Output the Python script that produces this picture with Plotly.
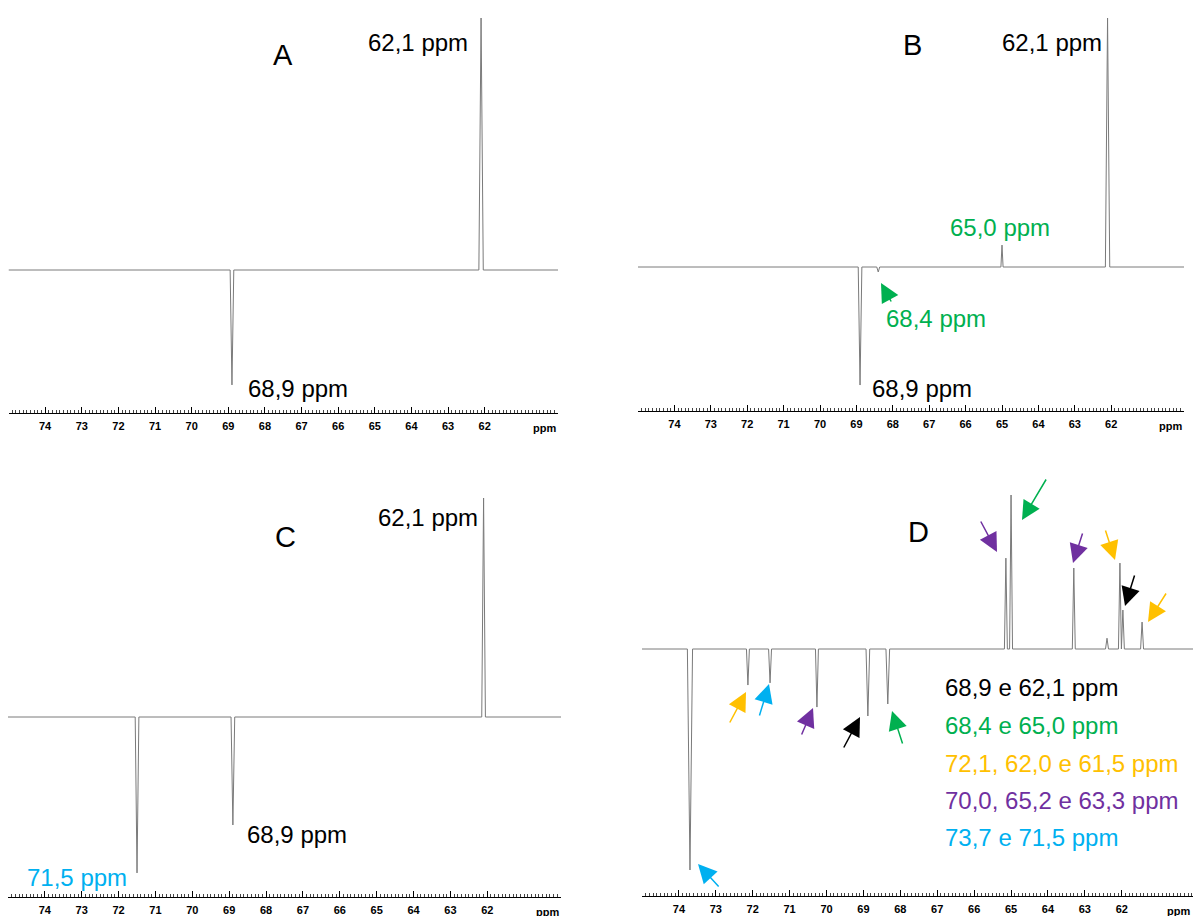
import plotly.graph_objects as go

# ---------------- data ----------------
# chemical shift (ppm) and relative intensity of each resonance, per spectrum
A_ppm = [68.9, 62.1]
A_int = [-45.6, 100.0]
A_lw = [0.05, 0.06]

B_ppm = [68.9, 68.4, 65.0, 62.1]
B_int = [-47.4, -2.0, 8.8, 100.0]
B_lw = [0.05, 0.04, 0.03, 0.06]

C_ppm = [71.5, 68.9, 62.1]
C_int = [-71.2, -49.3, 100.0]
C_lw = [0.05, 0.05, 0.05]

D_ppm = [73.70, 72.13, 71.53, 70.26, 68.88, 68.34, 65.14, 65.00, 63.30, 62.40, 62.05, 61.97, 61.45]
D_int = [-143.5, -23.4, -22.0, -37.7, -43.5, -35.7, 59.0, 100.0, 52.6, 7.0, 55.8, 25.3, 17.5]
D_lw = [0.07, 0.04, 0.04, 0.04, 0.05, 0.05, 0.04, 0.04, 0.04, 0.04, 0.04, 0.04, 0.04]

tick_vals = [74, 73, 72, 71, 70, 69, 68, 67, 66, 65, 64, 63, 62]
tick_text = [str(v) for v in tick_vals]
ppm_left, ppm_right = 75.0, 60.0

panel_letters = ["A", "B", "C", "D"]
legend_D = ["68,9 e 62,1 ppm", "68,4 e 65,0 ppm", "72,1, 62,0 e 61,5 ppm",
            "70,0, 65,2 e 63,3 ppm", "73,7 e 71,5 ppm"]

# ---------------- styling / layout ----------------
W, H = 1193, 916
FONT = "Arial, Liberation Sans, sans-serif"
GREY = "#7a7a7a"
GREEN = "#00B050"
YELLOW = "#FFC000"
PURPLE = "#7030A0"
BLUE = "#00B0F0"
BLACK = "#000000"

# per panel: x pixel span, top pixel, axis-line pixel, baseline pixel, px per intensity unit,
# right ppm of the visible axis, pixel of the right edge of the "ppm" unit label
panels = [
    dict(x0=8.5, x1=558, top=0, bottom=413, base=270, s=2.52, right=60.0, end=558),
    dict(x0=638, x1=1184, top=0, bottom=411, base=267, s=2.49, right=60.0, end=1184),
    dict(x0=8, x1=561, top=460, bottom=897, base=717, s=2.19, right=60.0, end=561),
    dict(x0=642, x1=1193, top=460, bottom=896, base=649, s=1.54, right=60.07, end=1192),
]
spectra = [(A_ppm, A_int, A_lw), (B_ppm, B_int, B_lw), (C_ppm, C_int, C_lw), (D_ppm, D_int, D_lw)]


def build_line(ppm, inten, lw):
    xs, ys = [ppm_left], [0.0]
    for p, h, w in sorted(zip(ppm, inten, lw), key=lambda t: -t[0]):
        xs += [p + w, p, p - w]
        ys += [0.0, h, 0.0]
    xs.append(ppm_right)
    ys.append(0.0)
    return xs, ys


fig = go.Figure()
layout = dict(
    width=W, height=H, autosize=False,
    margin=dict(l=0, r=0, t=0, b=0),
    paper_bgcolor="white", plot_bgcolor="white",
    showlegend=False,
)

for i, (pan, (pp, ii, ll)) in enumerate(zip(panels, spectra)):
    n = "" if i == 0 else str(i + 1)
    xs, ys = build_line(pp, ii, ll)
    fig.add_trace(go.Scatter(x=xs, y=ys, mode="lines",
                             line=dict(color=GREY, width=1),
                             xaxis="x" + n, yaxis="y" + n, hoverinfo="skip"))
    ytop = (pan["base"] - pan["top"]) / pan["s"]
    ybot = -(pan["bottom"] - pan["base"]) / pan["s"]
    layout["xaxis" + n] = dict(
        domain=[pan["x0"] / W, pan["x1"] / W],
        range=[ppm_left, pan["right"]],
        anchor="y" + n,
        tickvals=tick_vals, ticktext=tick_text,
        ticks="inside", ticklen=6, tickwidth=1, tickcolor="black",
        showline=True, linecolor="black", linewidth=1,
        showgrid=False, zeroline=False,
        minor=dict(dtick=0.1, tick0=60, ticks="inside", ticklen=3,
                   tickwidth=0.8, tickcolor="#444444", showgrid=False),
        tickfont=dict(family=FONT, size=11, color="black", weight="bold"),
        ticklabelstandoff=3,
        fixedrange=True,
    )
    layout["yaxis" + n] = dict(
        domain=[1 - pan["bottom"] / H, 1 - pan["top"] / H],
        range=[ybot, ytop], visible=False, fixedrange=True,
    )

annotations = []


def P(x, y):
    return x / W, 1 - y / H


def txt(x, y, s, color=BLACK, size=24, xanchor="center"):
    px, py = P(x, y)
    annotations.append(dict(x=px, y=py, xref="paper", yref="paper", text=s,
                            showarrow=False, xanchor=xanchor, yanchor="middle",
                            font=dict(family=FONT, size=size, color=color)))


def arrow(tip, tail, color):
    px, py = P(*tip)
    annotations.append(dict(x=px, y=py, xref="paper", yref="paper", text="",
                            showarrow=True, ax=tail[0] - tip[0], ay=tail[1] - tip[1],
                            axref="pixel", ayref="pixel",
                            arrowhead=2, arrowsize=2.5, arrowwidth=1.5,
                            arrowcolor=color, standoff=0))


# "ppm" unit labels at the right end of each axis
for pan in panels:
    px, py = P(pan["end"], pan["bottom"] + 15)
    annotations.append(dict(x=px, y=py, xref="paper", yref="paper",
                            text="ppm", showarrow=False,
                            xanchor="right", yanchor="middle",
                            font=dict(family=FONT, size=11, color="black", weight="bold")))

# panel letters
txt(283, 55, panel_letters[0], size=29)
txt(913, 45, panel_letters[1], size=29)
txt(285, 537, panel_letters[2], size=29)
txt(918, 532, panel_letters[3], size=29)

# A
txt(418, 42, "62,1 ppm")
txt(298, 389, "68,9 ppm")
# B
txt(1052, 42, "62,1 ppm")
txt(1000, 227, "65,0 ppm", GREEN)
txt(936, 319, "68,4 ppm", GREEN)
txt(922, 389, "68,9 ppm")
arrow((881, 283), (892, 303), GREEN)
# C
txt(428, 517, "62,1 ppm")
txt(297, 834, "68,9 ppm")
txt(77, 877, "71,5 ppm", BLUE)
# D legend
for s, c, y in zip(legend_D, [BLACK, GREEN, YELLOW, PURPLE, BLUE], [687, 725, 763, 800, 837]):
    txt(943, y, s, c, xanchor="left")
# D arrows
arrow((1022, 520), (1047, 478), GREEN)
arrow((997, 552), (980, 520), PURPLE)
arrow((1073, 563), (1083, 532), PURPLE)
arrow((1115, 560), (1105, 529), YELLOW)
arrow((1125, 606), (1135, 574), BLACK)
arrow((1148, 622), (1167, 592), YELLOW)
arrow((698, 864), (720, 888), BLUE)
arrow((746, 692), (729, 724), YELLOW)
arrow((769, 684), (759, 717), BLUE)
arrow((813, 708), (801, 736), PURPLE)
arrow((860, 717), (843, 749), BLACK)
arrow((892, 711), (903, 745), GREEN)

layout["annotations"] = annotations
fig.update_layout(**layout)
fig.write_html("out.html")
